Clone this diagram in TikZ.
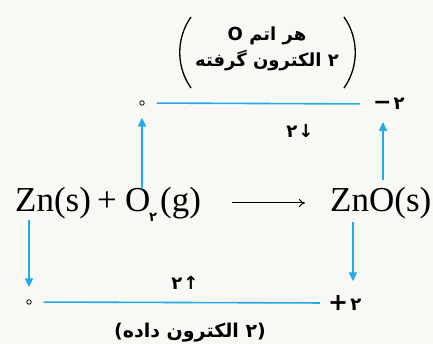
\documentclass[tikz,border=0pt]{standalone}
\usepackage{fontspec}
\setmainfont{Liberation Serif}
\newfontfamily\arabicfont[Script=Arabic]{DejaVu Sans}
\newfontfamily\symfont{DejaVu Sans}
\TeXXeTstate=1
\usetikzlibrary{arrows.meta}
\definecolor{eblue}{RGB}{35,170,230}
\definecolor{bg}{RGB}{248,249,245}
\begin{document}
\begin{tikzpicture}[x=1pt,y=-1pt,
  eq/.style={font=\fontsize{35}{38}\selectfont, inner sep=0, anchor=base west},
  fa/.style={font=\arabicfont\bfseries\fontsize{18}{20}\selectfont, inner sep=0},
  bl/.style={draw=eblue, line width=1.6pt},
  barrow/.style={bl, -{Triangle[length=9pt,width=8pt]}},
  ox/.style={circle, draw=black, line width=0.8pt, inner sep=0, minimum size=4.5pt},
  paren/.style={draw=black, line width=1.3pt}]
\fill[bg] (0,0) rectangle (433,344);
\useasboundingbox (0,0) rectangle (433,344);

% equation
\node[eq] (zn) at (15,212) {Zn(s)};
\node[eq, anchor=base] (plus) at (107,212) {+};
\node[eq] (o) at (125,212) {O};
\node[font=\arabicfont\bfseries\fontsize{13}{14}\selectfont, inner sep=0] (sub) at (153,217) {۲};
\node[eq] (g) at (160,212) {(g)};
\node[eq] (zno) at (330,212) {ZnO(s)};
\coordinate (a1) at (232,203);
\coordinate (a2) at (305,203);
\draw[line width=1pt, -{To[length=6pt,width=8pt]}] (a1) -- (a2);

% top level
\node[ox] (d1) at (142,103) {};
\node[fa, anchor=west] (m1) at (373,104) {\hbox{\symfont\fontsize{22}{24}\selectfont −}\hbox{\kern2pt ۲}};
\draw[bl, shorten <=12pt, shorten >=13pt] (d1) -- (m1.west);
\node[fa] (t1) at (300,131) {\hbox{۲}\hbox{\kern1pt ↓}};

% bottom level
\node[ox] (d2) at (29,302) {};
\node[fa, anchor=west] (p2) at (328,303) {\hbox{\symfont\fontsize{24}{26}\selectfont +}\hbox{\kern2pt ۲}};
\draw[bl, shorten <=12pt, shorten >=8pt] (d2) -- (p2.west);
\node[fa] (t2) at (185,283) {\hbox{۲}\hbox{\kern1pt ↑}};
\node[fa, font=\arabicfont\bfseries\fontsize{19}{21}\selectfont] (b1) at (190,333) {\hbox{\symfont\bfseries (}\hbox{\beginR ۲ الکترون داده\endR}\hbox{\symfont\bfseries )}};

% top label
\node[fa, align=center, font=\arabicfont\bfseries\fontsize{18}{26}\selectfont] (top) at (267,49)
  {\beginR هر اتم O\endR\\ \beginR ۲ الکترون گرفته\endR};
\draw[paren] (191,17) .. controls (176,38) and (176,67) .. (191,88);
\draw[paren] (344,17) .. controls (359,38) and (359,67) .. (344,88);

% arrows
\coordinate (u2) at (383,180);
\coordinate (dn2) at (353,222);
\draw[barrow, shorten >=12pt] (o.north -| d1) -- (d1.south);
\draw[barrow, shorten >=12pt] (u2) -- (u2 |- m1.south);
\draw[barrow, shorten >=12pt] (zn.south -| d2) -- (d2.north);
\draw[barrow, shorten >=14pt] (dn2) -- (dn2 |- p2.north);
\end{tikzpicture}
\end{document}
